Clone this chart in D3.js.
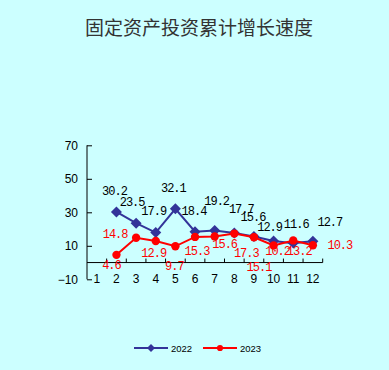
<!DOCTYPE html>
<html>
<head>
<meta charset="utf-8">
<script src="https://cdn.jsdelivr.net/npm/d3@7"></script>
<style>
  html, body { margin: 0; padding: 0; background: #ccffff; }
  svg { display: block; }
</style>
</head>
<body>
<script>
var months = [1, 2, 3, 4, 5, 6, 7, 8, 9, 10, 11, 12];
var values2022 = [null, 30.2, 23.5, 17.9, 32.1, 18.4, 19.2, 17.7, 15.6, 12.9, 11.6, 12.7];
var values2023 = [null, 4.6, 14.8, 12.9, 9.7, 15.3, 15.6, 17.3, 15.1, 10.2, 13.2, 10.3];
var yTicks = [-10, 10, 30, 50, 70];
var seriesNames = ["2022", "2023"];

// label nudges (px) so the value tags don't sit on the lines
var nudge2022 = [null, [-2, -20], [-4, -20], [-2, -21], [-2, -20], [-1, -20], [2, -28], [7, -23], [-1, -18], [-4, -13], [3, -18], [17, -18]];
var nudge2023 = [null, [-5, 11], [-21, -3], [-2, 13], [-1, 21], [2, 15], [10, 9], [12, 20], [5, 31], [4, 7], [6, 12], [27, 1]];

var width = 389,
    height = 370;

var svg = d3.select("body").append("svg")
    .attr("width", width)
    .attr("height", height);

svg.append("rect")
    .attr("width", width)
    .attr("height", height)
    .attr("fill", "#ccffff");

svg.append("text")
    .attr("x", 199)
    .attr("y", 26)
    .attr("text-anchor", "middle")
    .attr("dominant-baseline", "central")
    .attr("font-family", "'Noto Sans CJK SC', sans-serif")
    .attr("font-size", "19px")
    .attr("fill", "#333")
    .text("固定资产投资累计增长速度");

var x = d3.scaleBand()
    .domain(months)
    .range([87, 322.7]);

var y = d3.scaleLinear()
    .domain([-10, 70])
    .range([279.3, 145.3]);

var cx = function(m) { return x(m) + x.bandwidth() / 2; };

// y axis with inward ticks
var yAxis = svg.append("g")
    .attr("transform", "translate(" + x.range()[0] + ",0)")
    .call(d3.axisRight(y).tickValues(yTicks).tickSize(5).tickFormat(d3.format("d")));
yAxis.select(".domain").attr("d", "M0," + y(70) + "V" + y(-10)).attr("stroke", "#000");
yAxis.selectAll(".tick line").attr("stroke", "#000");
yAxis.selectAll(".tick text")
    .attr("x", -9)
    .attr("text-anchor", "end")
    .attr("font-family", "'Liberation Sans', Arial, sans-serif")
    .attr("font-size", "12px")
    .attr("fill", "#000")
    .text(function(d) { return d < 0 ? "\u2212" + Math.abs(d) : d; });

// x axis at zero, ticks on band edges pointing up
var xAxis = svg.append("g");
xAxis.append("line")
    .attr("x1", x.range()[0]).attr("x2", x.range()[1])
    .attr("y1", y(0)).attr("y2", y(0))
    .attr("stroke", "#000");
xAxis.selectAll(".xt")
    .data(months)
    .enter().append("line")
    .attr("class", "xt")
    .attr("x1", function(d) { return x(d) + x.bandwidth(); })
    .attr("x2", function(d) { return x(d) + x.bandwidth(); })
    .attr("y1", y(0))
    .attr("y2", y(0) - 4)
    .attr("stroke", "#000");
xAxis.selectAll(".xl")
    .data(months)
    .enter().append("text")
    .attr("class", "xl")
    .attr("x", cx)
    .attr("y", y(-10))
    .attr("text-anchor", "middle")
    .attr("dominant-baseline", "central")
    .attr("font-family", "'Liberation Sans', Arial, sans-serif")
    .attr("font-size", "12px")
    .attr("fill", "#000")
    .text(function(d) { return d; });

function drawSeries(values, color, marker, nudge, labelColor) {
    var pts = months.map(function(m, i) { return { m: m, v: values[i], n: nudge[i] }; })
        .filter(function(d) { return d.v != null; });

    var line = d3.line()
        .x(function(d) { return cx(d.m); })
        .y(function(d) { return y(d.v); });

    svg.append("path")
        .datum(pts)
        .attr("d", line)
        .attr("fill", "none")
        .attr("stroke", color)
        .attr("stroke-width", 2);

    svg.selectAll(null)
        .data(pts)
        .enter().append("path")
        .attr("transform", function(d) { return "translate(" + cx(d.m) + "," + y(d.v) + ")"; })
        .attr("d", marker)
        .attr("fill", color);

    svg.selectAll(null)
        .data(pts)
        .enter().append("text")
        .attr("x", function(d) { return cx(d.m) + d.n[0]; })
        .attr("y", function(d) { return y(d.v) + d.n[1]; })
        .attr("text-anchor", "middle")
        .attr("dominant-baseline", "central")
        .attr("font-family", "'Liberation Mono', 'DejaVu Sans Mono', monospace")
        .attr("font-size", "12px")
        .attr("letter-spacing", "-1px")
        .attr("fill", labelColor)
        .text(function(d) { return d.v.toFixed(1); });
}

var diamond = "M0,-5.5L5.5,0L0,5.5L-5.5,0Z";
var circle = d3.symbol().type(d3.symbolCircle).size(55)();

drawSeries(values2022, "#333399", diamond, nudge2022, "#000");
drawSeries(values2023, "#ff0000", circle, nudge2023, "#ff0000");

// legend
var legend = svg.append("g");
var legendItems = [
    { name: seriesNames[0], color: "#333399", marker: "M0,-4L4,0L0,4L-4,0Z", x: 134 },
    { name: seriesNames[1], color: "#ff0000", marker: d3.symbol().type(d3.symbolCircle).size(30)(), x: 203 }
];
legendItems.forEach(function(it) {
    var g = legend.append("g").attr("transform", "translate(" + it.x + ",348)");
    g.append("line").attr("x1", 0).attr("x2", 34).attr("stroke", it.color).attr("stroke-width", 2);
    g.append("path").attr("transform", "translate(17,0)").attr("d", it.marker).attr("fill", it.color);
    g.append("text")
        .attr("x", 37)
        .attr("dominant-baseline", "central")
        .attr("font-family", "'Liberation Sans', Arial, sans-serif")
        .attr("font-size", "9.5px")
        .attr("fill", "#000")
        .text(it.name);
});
</script>
</body>
</html>
